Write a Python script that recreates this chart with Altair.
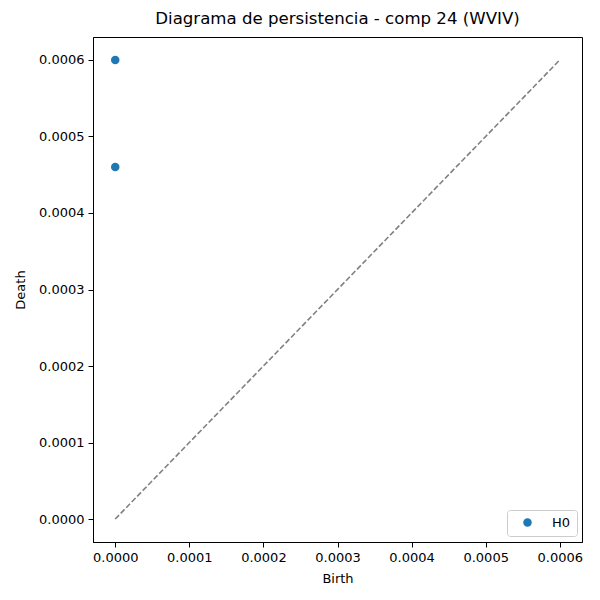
import altair as alt
import pandas as pd

# persistence pairs (H0)
birth = [0.0, 0.0]
death = [0.0006, 0.00046]
dims = ["H0", "H0"]

# diagonal reference
diag = [0.0, 0.0006]

ticks = [0.0, 0.0001, 0.0002, 0.0003, 0.0004, 0.0005, 0.0006]
dom = [-0.00003, 0.00063]

points = pd.DataFrame({"Birth": birth, "Death": death, "dim": dims})
line_df = pd.DataFrame({"x": diag, "y": diag})

font = "DejaVu Sans"

x_axis = alt.Axis(values=ticks, format=".4f", grid=False, tickSize=5, labelPadding=4,
                  titlePadding=8, domainColor="black", tickColor="black")
y_axis = alt.Axis(values=ticks, format=".4f", grid=False, tickSize=5, labelPadding=4,
                  titlePadding=11, domainColor="black", tickColor="black")

diagonal = alt.Chart(line_df).mark_line(
    color="gray", strokeDash=[5.5, 2.4], strokeWidth=1.6
).encode(
    x=alt.X("x:Q", scale=alt.Scale(domain=dom, nice=False, zero=False), axis=x_axis, title="Birth"),
    y=alt.Y("y:Q", scale=alt.Scale(domain=dom, nice=False, zero=False), axis=y_axis, title="Death"),
)

dots = alt.Chart(points).mark_circle(size=72, opacity=1).encode(
    x="Birth:Q",
    y="Death:Q",
    color=alt.Color("dim:N", scale=alt.Scale(domain=["H0"], range=["#1f77b4"]),
                    legend=alt.Legend(title=None, orient="none", legendX=414, legendY=473,
                                      symbolType="circle", symbolSize=72, labelFontSize=13,
                                      labelFont=font, padding=6, strokeColor="#cccccc",
                                      fillColor="white", cornerRadius=3, symbolOffset=8,
                                      labelOffset=18)),
)

chart = alt.layer(diagonal, dots).properties(
    width=489, height=505,
    title=alt.Title("Diagrama de persistencia - comp 24 (WVIV)", font=font, fontSize=16.6,
                    fontWeight="normal", offset=9),
    autosize=alt.AutoSizeParams(type="none"),
    padding={"left": 85, "top": 29, "right": 10, "bottom": 50},
).configure_view(
    stroke="black", strokeWidth=1
).configure_axis(
    labelFont=font, titleFont=font, labelFontSize=13, titleFontSize=13,
    labelColor="black", titleColor="black", titleFontWeight="normal"
)

chart.save("out.html", embed_options={"renderer": "svg", "actions": False})
